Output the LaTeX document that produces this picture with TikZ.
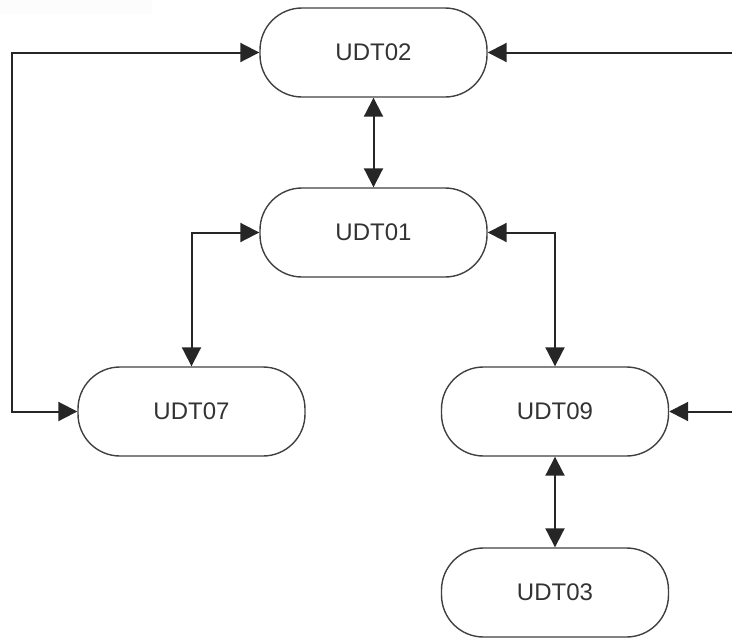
\documentclass[tikz,border=0pt]{standalone}
\usepackage{fontspec}
\setmainfont{Liberation Sans}
\usetikzlibrary{arrows.meta}
\begin{document}
\begin{tikzpicture}[x=1pt,y=-1pt,
    >={Triangle[length=19pt,width=19pt]},
    udt/.style={draw=black!75, line width=1.4pt, rounded corners=42pt,
      minimum width=227pt, minimum height=89pt, inner sep=0pt,
      font=\fontsize{24}{28}\selectfont, text=black!80},
    link/.style={draw=black!85, line width=2pt}]

      \useasboundingbox (0,0) rectangle (732,641);
      \fill[black!1] (0,0) rectangle (152,14);

      \node[udt] (udt02) at (373.5,52.5)  {UDT02};
      \node[udt] (udt01) at (373.5,232.5) {UDT01};
      \node[udt] (udt07) at (191.5,411.5) {UDT07};
      \node[udt] (udt09) at (555,411.5)   {UDT09};
      \node[udt] (udt03) at (555,592.5)   {UDT03};

      \coordinate (L) at (12,52.5);
      \coordinate (R2) at (732,52.5);
      \coordinate (R9) at (732,411.5);

      \draw[link, <->] (udt02) to (udt01);
      \draw[link, <->] (udt01.west) -| (udt07.north);
      \draw[link, <->] (udt01.east) -| (udt09.north);
      \draw[link, <->] (udt09) to (udt03);
      \draw[link, <->] (udt02.west) -- (L) |- (udt07.west);
      \draw[link, ->] (R2) to (udt02.east);
      \draw[link, ->] (R9) to (udt09.east);
    \end{tikzpicture}
\end{document}
